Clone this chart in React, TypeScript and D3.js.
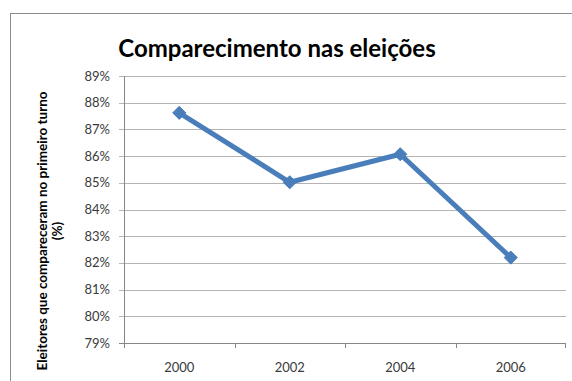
import React from "react";
import * as d3 from "d3";

const years = ["2000", "2002", "2004", "2006"];
const turnout = [87.62, 85.02, 86.07, 82.2];
const yTicks = [79, 80, 81, 82, 83, 84, 85, 86, 87, 88, 89];

const W = 572;
const H = 381;
const FONT = "Lato, 'Open Sans', sans-serif";

export default function App() {
  const left = 124;
  const right = 566;
  const top = 76;
  const bottom = 343;

  const x = d3.scaleBand<string>().domain(years).range([left, right]);
  const y = d3.scaleLinear().domain([79, 89]).range([bottom, top]);

  const line = d3
    .line<number>()
    .x((_, i) => (x(years[i]) as number) + x.bandwidth() / 2)
    .y((d) => y(d));

  const diamond = d3.symbol().type(d3.symbolDiamond2).size(110)();

  return (
    <svg
      width={W}
      height={H}
      style={{ position: "absolute", left: 0, top: 0, background: "#fff" }}
    >
      <rect x={0} y={0} width={W} height={H} fill="#fff" />
      {/* chart frame */}
      <rect x={10.5} y={13.5} width={W + 20} height={H + 20} fill="none" stroke="#8c8c8c" strokeWidth={1} />

      <text
        x={277}
        y={57}
        textAnchor="middle"
        fontFamily={FONT}
        fontWeight={700}
        fontSize={24}
        fill="#000"
      >
        Comparecimento nas eleições
      </text>

      {/* horizontal gridlines */}
      {yTicks.map((t) => (
        <line
          key={"g" + t}
          x1={left - 5}
          x2={right}
          y1={Math.round(y(t)) + 0.5}
          y2={Math.round(y(t)) + 0.5}
          stroke={t === 79 ? "#868686" : "#b3b3b3"}
          strokeWidth={1}
        />
      ))}
      {/* vertical axis */}
      <line x1={left + 0.5} x2={left + 0.5} y1={top} y2={bottom} stroke="#868686" />

      {/* category ticks */}
      {years.map((yr) => (
        <line
          key={"t" + yr}
          x1={Math.round(x(yr) as number) + 0.5}
          x2={Math.round(x(yr) as number) + 0.5}
          y1={bottom}
          y2={bottom + 5}
          stroke="#868686"
        />
      ))}
      <line x1={right - 0.5} x2={right - 0.5} y1={bottom} y2={bottom + 5} stroke="#868686" />

      {/* y tick labels */}
      {yTicks.map((t) => (
        <text
          key={"l" + t}
          x={110}
          y={y(t) + 4.5}
          textAnchor="end"
          fontFamily={FONT}
          fontSize={13}
          fill="#3a3a3a"
        >
          {t}%
        </text>
      ))}

      {/* x labels */}
      {years.map((yr) => (
        <text
          key={"x" + yr}
          x={(x(yr) as number) + x.bandwidth() / 2}
          y={372}
          textAnchor="middle"
          fontFamily={FONT}
          fontSize={13}
          fill="#3a3a3a"
        >
          {yr}
        </text>
      ))}

      {/* y axis title */}
      <g transform="translate(47,231) rotate(-90)">
        <text
          x={0}
          y={0}
          textAnchor="middle"
          fontFamily={FONT}
          fontWeight={700}
          fontSize={13.5}
          fill="#000"
        >
          Eleitores que compareceram no primeiro turno
        </text>
        <text
          x={0}
          y={15}
          textAnchor="middle"
          fontFamily={FONT}
          fontWeight={700}
          fontSize={13.5}
          fill="#000"
        >
          (%)
        </text>
      </g>

      {/* series */}
      <path
        d={line(turnout) ?? ""}
        fill="none"
        stroke="#4a7ebb"
        strokeWidth={5}
        strokeLinejoin="round"
      />
      {turnout.map((v, i) => (
        <path
          key={"m" + i}
          d={diamond ?? ""}
          transform={`translate(${(x(years[i]) as number) + x.bandwidth() / 2},${y(v)})`}
          fill="#4a7ebb"
          stroke="#4a7ebb"
          strokeWidth={1}
        />
      ))}
    </svg>
  );
}
